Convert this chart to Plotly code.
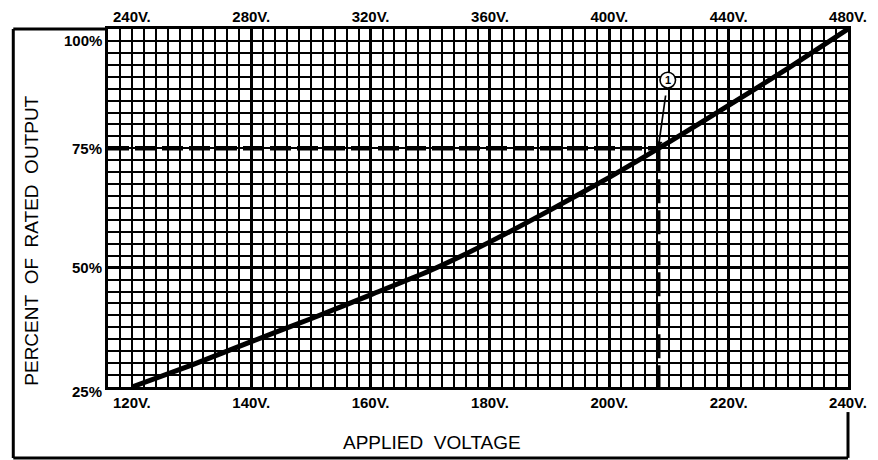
import plotly.graph_objects as go

# Data
voltage = [120, 130, 140, 150, 160, 170, 180, 190, 200, 210, 220, 230, 240]
pct_output = [25, 29.6, 34.5, 39.3, 44.3, 49.4, 55.4, 62.0, 68.9, 76.3, 84.0, 91.8, 100]
voltage_480 = [v * 2 for v in voltage]

bottom_ticks = [120, 140, 160, 180, 200, 220, 240]
bottom_labels = ["120V.", "140V.", "160V.", "180V.", "200V.", "220V.", "240V."]
top_ticks = [240, 280, 320, 360, 400, 440, 480]
top_labels = ["240V.", "280V.", "320V.", "360V.", "400V.", "440V.", "480V."]
pct_ticks = [100, 75, 50, 25]
pct_labels = ["100%", "75%", "50%", "25%"]
heavy_grid_v = [140, 160, 180, 200, 220]

marker_v = 208.2      # voltage at 75% output
marker_pct = 75
callout_v = 209.8
callout_pct = 89.3
callout_text = "1"

x_range = [116, 240]
y_range = [25, 100]

FONT = "Liberation Sans"

fig = go.Figure()

# dashed reference lines
fig.add_trace(go.Scatter(x=[x_range[0], marker_v], y=[marker_pct, marker_pct], mode="lines",
                         line=dict(color="black", width=4.5, dash="21px,6px"),
                         showlegend=False, hoverinfo="skip"))
fig.add_trace(go.Scatter(x=[marker_v, marker_v], y=[marker_pct, y_range[0]], mode="lines",
                         line=dict(color="black", width=4.5, dash="24px,7px"),
                         showlegend=False, hoverinfo="skip"))
# main curve
fig.add_trace(go.Scatter(x=voltage, y=pct_output, mode="lines",
                         line=dict(color="black", width=5, shape="spline", smoothing=0.5),
                         showlegend=False))
# same curve on the 480V scale (invisible, keeps top axis drawn)
fig.add_trace(go.Scatter(x=voltage_480, y=pct_output, mode="lines", xaxis="x2",
                         line=dict(color="rgba(0,0,0,0)", width=0),
                         showlegend=False, hoverinfo="skip"))
# invisible trace for heavy-grid axis
fig.add_trace(go.Scatter(x=voltage, y=pct_output, mode="lines", xaxis="x3",
                         line=dict(color="rgba(0,0,0,0)", width=0),
                         showlegend=False, hoverinfo="skip"))

tickfont = dict(family=FONT, size=15, color="black", weight="bold")

fig.update_layout(
    width=870, height=452,
    margin=dict(l=100, r=30, t=21, b=73, autoexpand=False),
    paper_bgcolor="white", plot_bgcolor="white",
    xaxis=dict(range=x_range, tickvals=bottom_ticks, ticktext=bottom_labels,
               showgrid=False,
               minor=dict(dtick=2, tick0=116, showgrid=True, gridcolor="black", gridwidth=1.5),
               showline=True, linecolor="black", linewidth=3, mirror=True,
               ticks="", tickfont=tickfont, zeroline=False, fixedrange=True),
    xaxis2=dict(range=[x_range[0] * 2, x_range[1] * 2], overlaying="x", side="top",
                tickvals=top_ticks, ticktext=top_labels, showgrid=False, ticks="",
                ticklabelstandoff=3,
                tickfont=tickfont, showline=False, zeroline=False),
    xaxis3=dict(range=x_range, overlaying="x", tickvals=heavy_grid_v, showticklabels=False,
                showgrid=True, gridcolor="black", gridwidth=2.6, ticks="",
                showline=False, zeroline=False),
    yaxis=dict(range=y_range, tickvals=[50], showticklabels=False,
               showgrid=True, gridcolor="black", gridwidth=2.6,
               minor=dict(dtick=2.5, tick0=25, showgrid=True, gridcolor="black", gridwidth=1.5),
               showline=True, linecolor="black", linewidth=3, mirror=True,
               ticks="", zeroline=False),
)

# y tick labels
yshifts = {100: -11, 75: 0, 50: 0, 25: -4}
for v, lab in zip(pct_ticks, pct_labels):
    fig.add_annotation(x=-0.006, xref="paper", y=v, yref="y", text=lab, showarrow=False,
                       xanchor="right", yanchor="middle", yshift=yshifts[v], font=tickfont)

# axis titles
fig.add_annotation(x=-0.103, xref="paper", y=0.408, yref="paper",
                   xanchor="center", yanchor="middle",
                   text="PERCENT\u00a0\u00a0OF\u00a0\u00a0RATED\u00a0\u00a0OUTPUT",
                   textangle=-90, showarrow=False,
                   font=dict(family=FONT, size=19, color="black"))
fig.add_annotation(x=0.438, xref="paper", y=-0.154, yref="paper",
                   xanchor="center", yanchor="middle",
                   text="APPLIED\u00a0\u00a0VOLTAGE", showarrow=False,
                   font=dict(family=FONT, size=19, color="black"))

# callout
fig.add_shape(type="circle", xref="x", yref="y",
              x0=callout_v - 1.3, x1=callout_v + 1.3,
              y0=callout_pct - 1.65, y1=callout_pct + 1.65,
              line=dict(color="black", width=1.6), fillcolor="white", layer="above")
fig.add_annotation(x=marker_v, y=marker_pct, xref="x", yref="y",
                   ax=callout_v, ay=callout_pct, axref="x", ayref="y",
                   text="<b>" + callout_text + "</b>", showarrow=True,
                   arrowhead=2, arrowsize=0.8, arrowwidth=1.7, arrowcolor="black",
                   standoff=0, startstandoff=8, bgcolor="rgba(0,0,0,0)",
                   font=dict(family=FONT, size=11, color="black"))

# outer frame
frame = dict(color="black", width=3)
fig.add_shape(type="line", xref="paper", yref="paper", x0=-0.128, x1=-0.128, y0=-0.198, y1=1.0, line=frame)
fig.add_shape(type="line", xref="paper", yref="paper", x0=-0.128, x1=0, y0=1.0, y1=1.0, line=frame)
fig.add_shape(type="line", xref="paper", yref="paper", x0=-0.128, x1=1.0, y0=-0.198, y1=-0.198, line=frame)
fig.add_shape(type="line", xref="paper", yref="paper", x0=1.0, x1=1.0, y0=-0.07, y1=-0.198, line=frame)

fig.write_html("out.html")
